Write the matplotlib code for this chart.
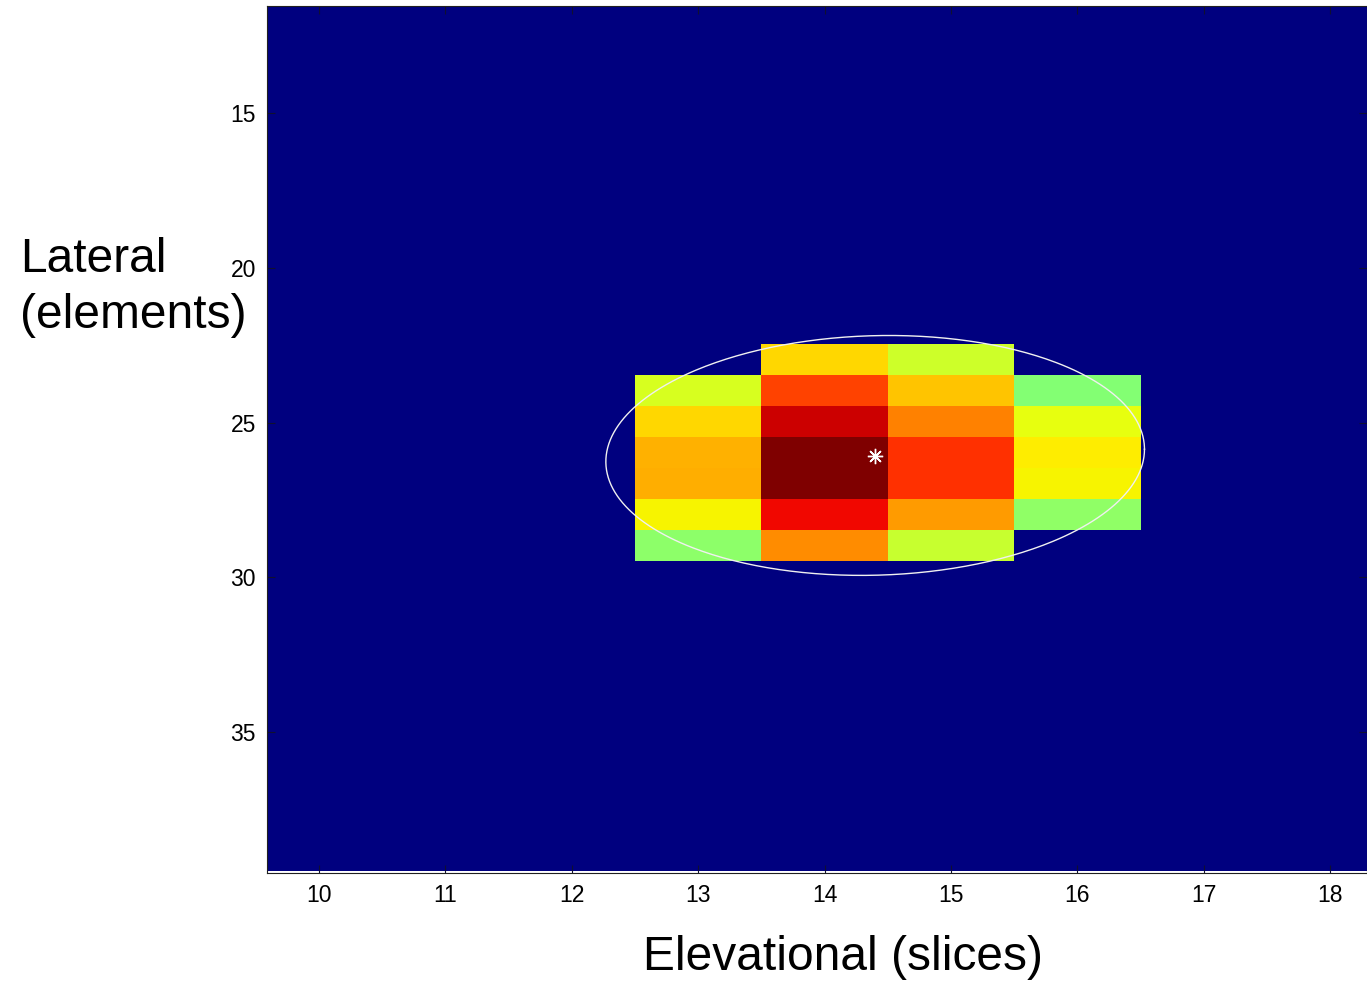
import numpy as np
import matplotlib
matplotlib.use("Agg")
import matplotlib.pyplot as plt

plt.rcParams['font.family'] = ['Liberation Sans', 'DejaVu Sans']

# Grid of slices (x) and elements (y)
slices = np.arange(10, 19)
elements = np.arange(12, 40)

# Normalised intensity per slice column, listed from the first element row down
col_13_rows = [24, 25, 26, 27, 28, 29]
col_13_vals = [0.61, 0.68, 0.72, 0.725, 0.65, 0.52]
col_14_rows = [23, 24, 25, 26, 27, 28, 29]
col_14_vals = [0.68, 0.837, 0.93, 1.0, 1.0, 0.90, 0.76]
col_15_rows = [23, 24, 25, 26, 27, 28, 29]
col_15_vals = [0.60, 0.70, 0.77, 0.856, 0.856, 0.745, 0.59]
col_16_rows = [24, 25, 26, 27, 28]
col_16_vals = [0.51, 0.63, 0.66, 0.65, 0.525]

# Centroid and fitted ellipse axes (data units)
centroid_x, centroid_y = 14.40, 26.08
ell_cx, ell_cy = 14.40, 26.06
ell_ax, ell_ay = 2.13, -0.20
ell_bx, ell_by = 0.0, 3.87

img = np.zeros((len(elements), len(slices)))
for col, rows, vals in [(13, col_13_rows, col_13_vals),
                        (14, col_14_rows, col_14_vals),
                        (15, col_15_rows, col_15_vals),
                        (16, col_16_rows, col_16_vals)]:
    j = int(np.where(slices == col)[0][0])
    for r, v in zip(rows, vals):
        i = int(np.where(elements == r)[0][0])
        img[i, j] = v

W, H = 1367, 983
fig = plt.figure(figsize=(W / 100, H / 100), dpi=100)
ax = fig.add_axes([267 / W, 1 - 873 / H, 1 - 267 / W, (873 - 6) / H])

ax.imshow(img, cmap='jet', vmin=0, vmax=1, aspect='auto', origin='upper',
          interpolation='nearest',
          extent=[slices[0] - 0.5, slices[-1] + 0.5,
                  elements[-1] + 0.5, elements[0] - 0.5])

t = np.linspace(0, 2 * np.pi, 400)
ex = ell_cx + ell_ax * np.cos(t) + ell_bx * np.sin(t)
ey = ell_cy + ell_ay * np.cos(t) + ell_by * np.sin(t)
ax.plot(ex, ey, color='#f0f0f0', lw=1.0)
ax.plot([centroid_x], [centroid_y], marker=(8, 2, 0), color='white',
        markersize=11, markeredgewidth=1.0)

ax.set_xlim(9.59, 18.29)
ax.set_ylim(39.55, 11.54)
ax.set_xticks(np.arange(10, 19))
ax.set_yticks([15, 20, 25, 30, 35])
ax.tick_params(direction='in', length=6, width=0.8, color='#101030',
               labelsize=16.5, top=True, right=True, pad=8)
for s in ax.spines.values():
    s.set_linewidth(0.8)
    s.set_color('#202020')

fig.text(20 / W, 1 - 272 / H, "Lateral", ha='left', va='baseline',
         fontsize=34.5)
fig.text(20 / W, 1 - 328 / H, "(elements)", ha='left', va='baseline',
         fontsize=34.5)
fig.text(843 / W, 1 - 958 / H, "Elevational (slices)", ha='center',
         va='center', fontsize=34.5)

fig.savefig("out.png", dpi=100, facecolor='white')
